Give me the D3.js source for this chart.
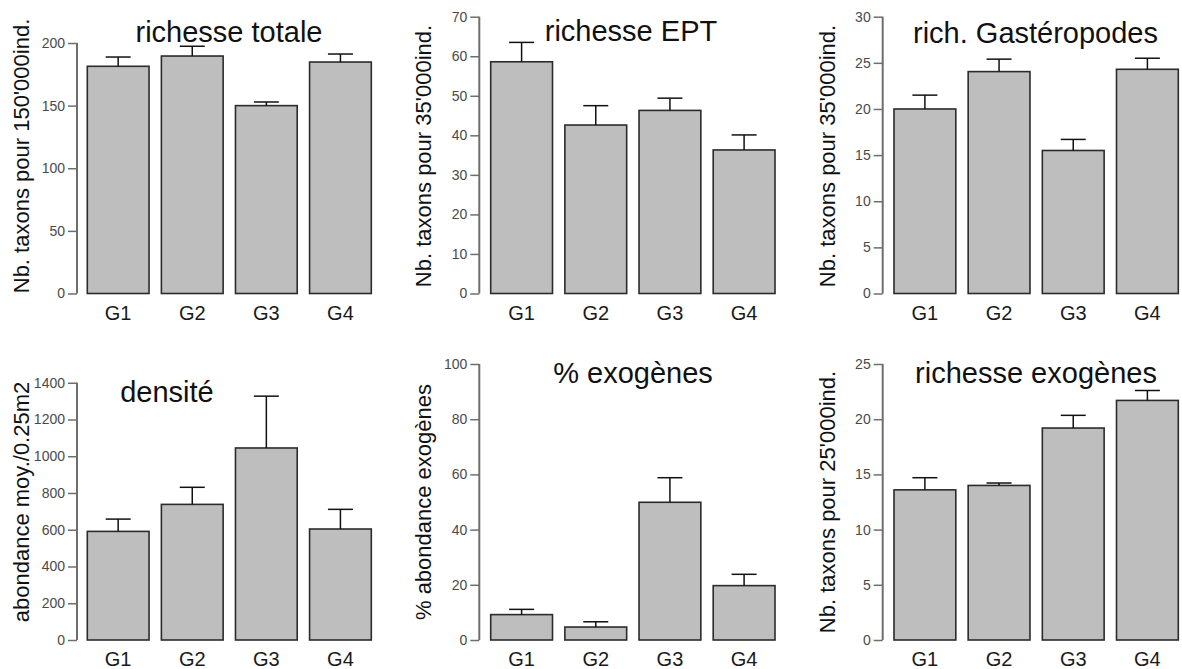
<!DOCTYPE html>
<html>
<head>
<meta charset="utf-8">
<script src="https://cdn.jsdelivr.net/npm/d3@7"></script>
<style>
  html, body { margin: 0; padding: 0; background: #fff; }
  svg { display: block; font-family: "Liberation Sans", Arial, Helvetica, sans-serif; }
</style>
</head>
<body>
<svg id="chart" width="1182" height="669"></svg>
<script>
// ---------- data ----------
const categories = ["G1", "G2", "G3", "G4"];

const titles = ["richesse totale", "richesse EPT", "rich. Gastéropodes",
                "densité", "% exogènes", "richesse exogènes"];

const yLabels = ["Nb. taxons pour 150'000ind.", "Nb. taxons pour 35'000ind.",
                 "Nb. taxons pour 35'000ind.", "abondance moy./0.25m2",
                 "% abondance exogènes", "Nb. taxons pour 25'000ind."];

const meansTotale   = [181.4, 189.6, 150.0, 184.8];
const seTotale      = [7.4, 7.8, 2.9, 6.4];
const meansEPT      = [58.6, 42.6, 46.3, 36.3];
const seEPT         = [4.9, 4.9, 3.1, 3.8];
const meansGast     = [20.0, 24.05, 15.5, 24.3];
const seGast        = [1.5, 1.35, 1.2, 1.2];
const meansDensite  = [591, 738, 1045, 604];
const seDensite     = [67, 93, 282, 107];
const meansPctExo   = [9.2, 4.7, 49.9, 19.7];
const sePctExo      = [1.9, 1.9, 8.9, 4.1];
const meansRichExo  = [13.6, 14.0, 19.2, 21.7];
const seRichExo     = [1.1, 0.22, 1.15, 0.9];

const ticksTotale   = [0, 50, 100, 150, 200];
const ticksEPT      = [0, 10, 20, 30, 40, 50, 60, 70];
const ticksGast     = [0, 5, 10, 15, 20, 25, 30];
const ticksDensite  = [0, 200, 400, 600, 800, 1000, 1200, 1400];
const ticksPctExo   = [0, 20, 40, 60, 80, 100];
const ticksRichExo  = [0, 5, 10, 15, 20, 25];

// axis upper limits (plot region top)
const yLimits = [221, 70, 30, 1502, 100, 25];

const panelsData = [
  { means: meansTotale,  se: seTotale,     ticks: ticksTotale },
  { means: meansEPT,     se: seEPT,        ticks: ticksEPT },
  { means: meansGast,    se: seGast,       ticks: ticksGast },
  { means: meansDensite, se: seDensite,    ticks: ticksDensite },
  { means: meansPctExo,  se: sePctExo,     ticks: ticksPctExo },
  { means: meansRichExo, se: seRichExo,    ticks: ticksRichExo }
];

// ---------- layout ----------
const colLayout = [
  { axisX: 77,    barL: 87.3,  barR: 371.3 },
  { axisX: 479.3, barL: 490.7, barR: 775 },
  { axisX: 882.7, barL: 894,   barR: 1178.3 }
];
const rowLayout = [
  { y0: 293.5, top: 16.7, ylabY: 156, catY: 320 },
  { y0: 640,   top: 364,  ylabY: 502, catY: 666 }
];
const titlePos = [
  { x: 229,  y: 41.5 }, { x: 631, y: 40.5 }, { x: 1035.5, y: 43 },
  { x: 167,  y: 401.5 }, { x: 633, y: 383 }, { x: 1036, y: 383 }
];

const svg = d3.select("#chart");

panelsData.forEach((pd, i) => {
  const col = colLayout[i % 3];
  const row = rowLayout[Math.floor(i / 3)];
  const g = svg.append("g");

  const x = d3.scaleBand()
    .domain(categories)
    .range([col.barL, col.barR])
    .paddingInner(0.2 / 1.2)
    .paddingOuter(0);

  const y = d3.scaleLinear()
    .domain([0, yLimits[i]])
    .range([row.y0, row.top]);

  // bars
  g.selectAll("rect.bar")
    .data(categories)
    .join("rect")
    .attr("class", "bar")
    .attr("x", d => x(d))
    .attr("width", x.bandwidth())
    .attr("y", (d, k) => y(pd.means[k]))
    .attr("height", (d, k) => y(0) - y(pd.means[k]))
    .attr("fill", "#bebebe")
    .attr("stroke", "#2b2b2b")
    .attr("stroke-width", 1.6);

  // error bars (upper only)
  const capHalf = 12.5;
  categories.forEach((c, k) => {
    const cx = x(c) + x.bandwidth() / 2;
    const yTop = y(pd.means[k] + pd.se[k]);
    const yMean = y(pd.means[k]);
    g.append("line")
      .attr("x1", cx).attr("x2", cx)
      .attr("y1", yMean).attr("y2", yTop)
      .attr("stroke", "#111").attr("stroke-width", 1.5);
    g.append("line")
      .attr("x1", cx - capHalf).attr("x2", cx + capHalf)
      .attr("y1", yTop).attr("y2", yTop)
      .attr("stroke", "#111").attr("stroke-width", 1.5);
  });

  // y axis
  const axis = d3.axisLeft(y)
    .tickValues(pd.ticks)
    .tickFormat(d3.format("d"))
    .tickSize(9)
    .tickPadding(3)
    .tickSizeOuter(0);
  const ag = g.append("g")
    .attr("transform", `translate(${col.axisX},0)`)
    .call(axis);
  ag.select(".domain").remove();
  ag.append("line")
    .attr("x1", 0).attr("x2", 0)
    .attr("y1", y(pd.ticks[0]))
    .attr("y2", y(pd.ticks[pd.ticks.length - 1]))
    .attr("stroke", "#6e6e6e")
    .attr("stroke-width", 2);
  ag.selectAll(".tick line").attr("stroke", "#6e6e6e").attr("stroke-width", 1.5);
  ag.selectAll(".tick text")
    .attr("fill", "#4a4a4a")
    .style("font-size", "14px")
    .style("font-family", "'Liberation Sans', Arial, sans-serif");

  // category labels
  g.selectAll("text.cat")
    .data(categories)
    .join("text")
    .attr("class", "cat")
    .attr("x", d => x(d) + x.bandwidth() / 2)
    .attr("y", row.catY)
    .attr("text-anchor", "middle")
    .attr("fill", "#1a1a1a")
    .style("font-size", "20px")
    .text(d => d);

  // y label
  g.append("text")
    .attr("transform", `translate(${col.axisX - 48},${row.ylabY}) rotate(-90)`)
    .attr("text-anchor", "middle")
    .attr("fill", "#111")
    .style("font-size", "22px")
    .text(yLabels[i]);

  // title
  g.append("text")
    .attr("x", titlePos[i].x)
    .attr("y", titlePos[i].y)
    .attr("text-anchor", "middle")
    .attr("fill", "#111")
    .style("font-size", "29px")
    .text(titles[i]);
});
</script>
</body>
</html>
